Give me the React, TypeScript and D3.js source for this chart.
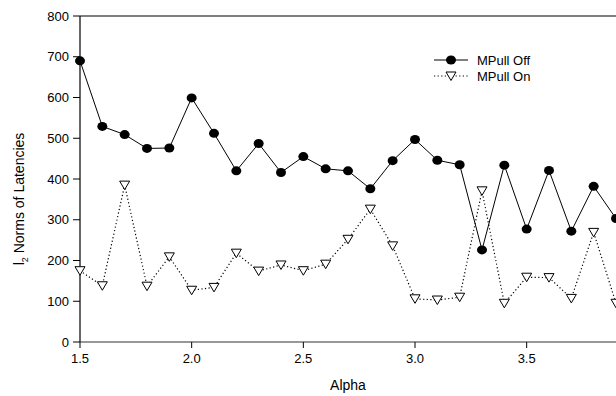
import React from "react";
import * as d3 from "d3";

const alphas = [1.5, 1.6, 1.7, 1.8, 1.9, 2.0, 2.1, 2.2, 2.3, 2.4, 2.5, 2.6, 2.7, 2.8, 2.9, 3.0, 3.1, 3.2, 3.3, 3.4, 3.5, 3.6, 3.7, 3.8, 3.9];
const mpullOff = [690, 529, 509, 475, 476, 599, 512, 420, 487, 416, 455, 425, 420, 376, 445, 497, 446, 435, 226, 434, 277, 421, 272, 382, 303];
const mpullOn = [175, 138, 385, 137, 209, 127, 134, 218, 174, 189, 175, 191, 252, 326, 236, 106, 103, 110, 371, 95, 159, 158, 107, 269, 95];
const xTicks = [1.5, 2.0, 2.5, 3.0, 3.5];
const yTicks = [0, 100, 200, 300, 400, 500, 600, 700, 800];
const seriesNames = ["MPull Off", "MPull On"];

const W = 616;
const H = 396;
const left = 80;
const right = 616;
const top = 16;
const bottom = 342;
const font = "'Liberation Sans', Arial, sans-serif";

export default function App() {
  const x = d3.scaleLinear().domain([1.5, 3.9]).range([left, right]);
  const y = d3.scaleLinear().domain([0, 800]).range([bottom, top]);
  const offData = alphas.map((a, i) => [a, mpullOff[i]] as [number, number]);
  const onData = alphas.map((a, i) => [a, mpullOn[i]] as [number, number]);
  const line = d3.line<[number, number]>().x((d) => x(d[0])).y((d) => y(d[1]));
  const tri = (cx: number, cy: number) =>
    `M${cx - 5},${cy - 4}L${cx + 5},${cy - 4}L${cx},${cy + 4.5}Z`;

  return (
    <svg
      width={W}
      height={H}
      style={{ position: "absolute", left: 0, top: 0, background: "#fff" }}
      fontFamily={font}
    >
      <rect x={0} y={0} width={W} height={H} fill="#fff" />
      {/* frame */}
      <line x1={left} x2={right} y1={top} y2={top} stroke="#000" strokeWidth={1.2} />
      <line x1={left} x2={left} y1={top} y2={bottom} stroke="#000" strokeWidth={1.2} />
      <line x1={left} x2={right} y1={bottom} y2={bottom} stroke="#333" strokeWidth={1.2} />
      {/* y ticks */}
      {yTicks.map((t) => (
        <g key={"y" + t}>
          <line x1={left - 7} x2={left} y1={y(t)} y2={y(t)} stroke="#000" strokeWidth={1} />
          <text x={left - 11} y={y(t)} dy="0.35em" textAnchor="end" fontSize={13} fill="#000">
            {t}
          </text>
        </g>
      ))}
      {/* x ticks */}
      {xTicks.map((t) => (
        <g key={"x" + t}>
          <line x1={x(t)} x2={x(t)} y1={bottom} y2={bottom + 6} stroke="#000" strokeWidth={1} />
          <text x={x(t)} y={bottom + 21} textAnchor="middle" fontSize={13} fill="#000">
            {t.toFixed(1)}
          </text>
        </g>
      ))}
      <text x={348} y={390} textAnchor="middle" fontSize={14} fill="#000">
        Alpha
      </text>
      <text
        transform={`translate(24,${(top + bottom) / 2 + 20}) rotate(-90)`}
        textAnchor="middle"
        fontSize={14}
        fill="#000"
      >
        l<tspan fontSize={9} dy={4}>2</tspan>
        <tspan dy={-4}> Norms of Latencies</tspan>
      </text>
      {/* lines */}
      <path d={line(offData) || ""} fill="none" stroke="#000" strokeWidth={1} />
      <path d={line(onData) || ""} fill="none" stroke="#000" strokeWidth={1.2} strokeDasharray="1.2,2.4" />
      {offData.map((d, i) => (
        <ellipse key={"o" + i} cx={x(d[0])} cy={y(d[1])} rx={5} ry={4.5} fill="#000" />
      ))}
      {onData.map((d, i) => (
        <path key={"t" + i} d={tri(x(d[0]), y(d[1]))} fill="#fff" stroke="#000" strokeWidth={1} />
      ))}
      {/* legend */}
      <line x1={434} x2={468} y1={60} y2={60} stroke="#000" strokeWidth={1} />
      <ellipse cx={451} cy={60} rx={5} ry={4.5} fill="#000" />
      <text x={477} y={64.5} fontSize={13} fill="#000">{seriesNames[0]}</text>
      <line x1={434} x2={468} y1={76} y2={76} stroke="#000" strokeWidth={1.2} strokeDasharray="1.2,2.4" />
      <path d={tri(451, 76)} fill="#fff" stroke="#000" strokeWidth={1} />
      <text x={477} y={80.5} fontSize={13} fill="#000">{seriesNames[1]}</text>
    </svg>
  );
}
